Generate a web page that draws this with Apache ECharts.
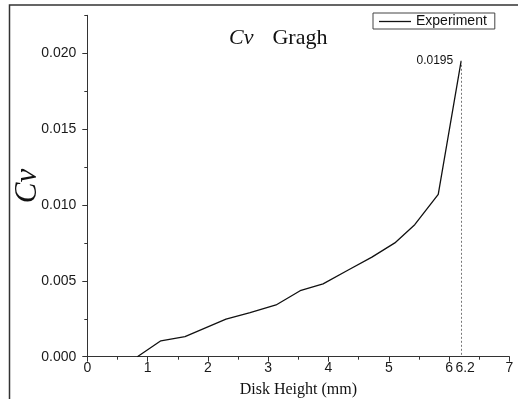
<!DOCTYPE html>
<html>
<head>
<meta charset="utf-8">
<script src="https://cdn.jsdelivr.net/npm/echarts@6/dist/echarts.min.js"></script>
<style>html,body{margin:0;padding:0;background:#fff;}#c{width:518px;height:399px;}</style>
</head>
<body>
<div id="c"></div>
<script>
// Data
const diskHeight = [0.83, 1.22, 1.62, 2.30, 2.70, 3.13, 3.53, 3.91, 4.32, 4.72, 5.10, 5.43, 5.82, 6.2];
const cvValues   = [0.0, 0.00105, 0.00132, 0.00247, 0.0029, 0.00341, 0.00435, 0.0048, 0.0057, 0.00656, 0.0075, 0.0087, 0.0107, 0.0195];
const xTickLabels = [0, 1, 2, 3, 4, 5, 6, 6.2, 7];
const yTickLabels = [0, 0.005, 0.010, 0.015, 0.020];
const peakLabel = '0.0195';
const seriesName = 'Experiment';

const chart = echarts.init(document.getElementById('c'), null, {renderer: 'canvas'});
const axisColor = '#333';
const sans = '"Liberation Sans", Arial, sans-serif';
const serif = '"Liberation Serif", "Times New Roman", serif';
const peakX = diskHeight[diskHeight.length - 1];
const peakY = cvValues[cvValues.length - 1];

chart.setOption({
  animation: false,
  backgroundColor: '#fff',
  title: {
    text: '{a|Cv}{b|Gragh}',
    left: 229, top: 27, padding: 0,
    textStyle: {
      fontWeight: 'normal',
      rich: {
        a: {fontFamily: serif, fontStyle: 'italic', fontWeight: 'normal', fontSize: 22, color: '#111'},
        b: {fontFamily: serif, fontWeight: 'normal', fontSize: 22, color: '#111', padding: [0, 0, 0, 19]}
      }
    }
  },
  legend: {
    data: [seriesName],
    left: 373, top: 13,
    padding: [1, 8, 0, 6],
    borderColor: '#444', borderWidth: 1,
    icon: 'rect', itemWidth: 32, itemHeight: 1.3, itemGap: 5,
    textStyle: {fontFamily: sans, fontSize: 14, color: '#111', lineHeight: 15}
  },
  graphic: [{
    type: 'rect', z: -1,
    shape: {x: 9.5, y: 5, width: 700, height: 600},
    style: {fill: 'none', stroke: '#333', lineWidth: 1.5}
  }],
  grid: {left: 87.3, right: 8.6, top: 15.3, bottom: 42.3, containLabel: false, outerBoundsMode: 'none'},
  xAxis: [{
    type: 'value', min: 0, max: 7, interval: 1,
    name: 'Disk Height (mm)', nameLocation: 'middle', nameGap: 25, nameMoveOverlap: false,
    nameTextStyle: {fontFamily: serif, fontSize: 16, color: '#111'},
    axisLine: {show: true, onZero: false, lineStyle: {color: axisColor, width: 1}},
    axisTick: {show: true, length: 5, lineStyle: {color: axisColor}},
    minorTick: {show: true, splitNumber: 2, length: 3, lineStyle: {color: axisColor}},
    axisLabel: {
      customValues: xTickLabels, margin: 4,
      fontFamily: sans, fontSize: 14, color: '#1a1a1a',
      formatter: v => (Math.abs(v - 6.2) < 1e-9 ? '{s|6.2}' : String(v)),
      rich: {s: {fontFamily: sans, fontSize: 14, color: '#1a1a1a', padding: [0, 0, 0, 8]}}
    },
    splitLine: {show: false}
  }],
  yAxis: [{
    type: 'value', min: 0, max: 0.0225, interval: 0.005,
    name: 'Cv', nameLocation: 'middle', nameGap: 44, nameRotate: 90, nameMoveOverlap: false,
    nameTextStyle: {fontFamily: serif, fontStyle: 'italic', fontWeight: 'normal', fontSize: 31, color: '#111'},
    axisLine: {show: true, onZero: false, lineStyle: {color: axisColor, width: 1}},
    axisTick: {show: true, length: 5, customValues: yTickLabels, lineStyle: {color: axisColor}},
    axisLabel: {
      customValues: yTickLabels, margin: 11,
      fontFamily: sans, fontSize: 14, color: '#1a1a1a',
      formatter: v => v.toFixed(3)
    },
    splitLine: {show: false}
  }, {
    type: 'value', min: 0, max: 0.0225, interval: 0.0025, position: 'left', offset: 0,
    axisLine: {show: false},
    axisTick: {show: true, length: 3, lineStyle: {color: axisColor}},
    axisLabel: {show: false},
    splitLine: {show: false}
  }],
  series: [{
    name: seriesName, type: 'line', xAxisIndex: 0, yAxisIndex: 0,
    data: diskHeight.map((x, i) => [x, cvValues[i]]),
    showSymbol: false, symbol: 'none',
    color: '#111',
    lineStyle: {color: '#111', width: 1.3},
    markPoint: {
      symbol: 'circle', symbolSize: 0, silent: true,
      label: {show: true, position: 'left', distance: 8, formatter: peakLabel,
              fontFamily: sans, fontSize: 12, color: '#111'},
      data: [{coord: [peakX, peakY]}]
    },
    markLine: {
      silent: true, symbol: ['none', 'none'],
      label: {show: false},
      lineStyle: {color: '#777', width: 1, type: [2, 2]},
      data: [[{coord: [peakX, peakY]}, {coord: [peakX, 0]}]]
    }
  }]
});
</script>
</body>
</html>
